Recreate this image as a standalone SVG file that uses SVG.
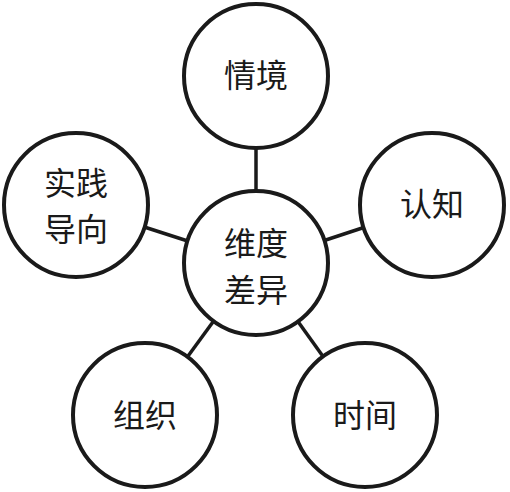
<svg xmlns="http://www.w3.org/2000/svg" width="510" height="492" viewBox="0 0 510 492">
<style>
.c{fill:#fff;stroke:#1a1a1a;stroke-width:4}
.l{stroke:#1a1a1a;stroke-width:3.5}
text{font-family:"Liberation Serif","Noto Sans CJK SC",serif;font-size:32px;fill:#1a1a1a;text-anchor:middle;dominant-baseline:central}
</style>
<rect width="510" height="492" fill="#fff"/>
<g id="connectors">
<line class="l" x1="256" y1="263" x2="256" y2="76"/>
<line class="l" x1="256" y1="263" x2="76" y2="205"/>
<line class="l" x1="256" y1="263" x2="432" y2="205"/>
<line class="l" x1="256" y1="263" x2="145" y2="415"/>
<line class="l" x1="256" y1="263" x2="365" y2="415"/>
</g>
<g id="center"><circle class="c" cx="256" cy="263" r="72"/><text x="256" y="244">维度</text><text x="256" y="291">差异</text></g>
<g id="qingjing"><circle class="c" cx="256" cy="76" r="72"/><text x="256" y="76">情境</text></g>
<g id="shijian-daoxiang"><circle class="c" cx="76" cy="205" r="72"/><text x="76" y="184">实践</text><text x="76" y="230">导向</text></g>
<g id="renzhi"><circle class="c" cx="432" cy="205" r="72"/><text x="432" y="205">认知</text></g>
<g id="zuzhi"><circle class="c" cx="145" cy="415" r="72"/><text x="145" y="416">组织</text></g>
<g id="shijian"><circle class="c" cx="365" cy="415" r="72"/><text x="365" y="416">时间</text></g>
</svg>
